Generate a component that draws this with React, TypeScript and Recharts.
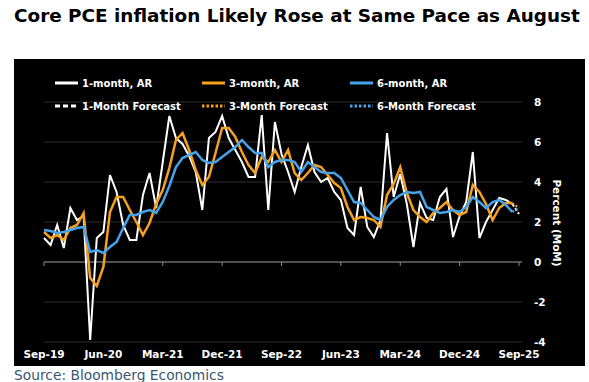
import { CartesianGrid, Legend, Line, LineChart, ReferenceLine, XAxis, YAxis } from "recharts";

const FONT = "DejaVu Sans";

const months = [
  "Sep-19", "Oct-19", "Nov-19", "Dec-19",
  "Jan-20", "Feb-20", "Mar-20", "Apr-20", "May-20", "Jun-20", "Jul-20", "Aug-20", "Sep-20", "Oct-20", "Nov-20", "Dec-20",
  "Jan-21", "Feb-21", "Mar-21", "Apr-21", "May-21", "Jun-21", "Jul-21", "Aug-21", "Sep-21", "Oct-21", "Nov-21", "Dec-21",
  "Jan-22", "Feb-22", "Mar-22", "Apr-22", "May-22", "Jun-22", "Jul-22", "Aug-22", "Sep-22", "Oct-22", "Nov-22", "Dec-22",
  "Jan-23", "Feb-23", "Mar-23", "Apr-23", "May-23", "Jun-23", "Jul-23", "Aug-23", "Sep-23", "Oct-23", "Nov-23", "Dec-23",
  "Jan-24", "Feb-24", "Mar-24", "Apr-24", "May-24", "Jun-24", "Jul-24", "Aug-24", "Sep-24", "Oct-24", "Nov-24", "Dec-24",
  "Jan-25", "Feb-25", "Mar-25", "Apr-25", "May-25", "Jun-25", "Jul-25", "Aug-25", "Sep-25",
];

// Sep-19 .. Aug-25, annualized rates
const oneMonth = [
  1.2, 0.85, 1.85, 0.7, 2.7, 2.1, 2.3, -3.9, 1.2, 1.5,
  4.35, 3.5, 1.85, 1.1, 1.1, 3.35, 4.45, 2.7, 5.0, 7.3,
  6.2, 5.9, 5.3, 4.5, 2.6, 6.2, 6.5, 7.3, 6.2, 5.6,
  5.0, 4.25, 4.25, 7.35, 2.6, 7.0, 5.4, 4.5, 3.5, 4.75,
  5.85, 4.5, 4.0, 4.2, 3.5, 3.1, 1.7, 1.35, 3.75, 1.75,
  1.25, 2.1, 6.45, 3.25, 4.4, 2.9, 0.75, 2.95, 2.2, 2.1,
  3.25, 3.65, 1.25, 2.3, 3.0, 5.5, 1.2, 2.0, 2.6, 3.2,
  3.1, 2.9,
];

const threeMonth = [
  1.5, 1.2, 1.35, 1.1, 1.7, 1.85, 2.45, -0.8, -1.2, -0.25,
  2.5, 3.25, 3.25, 2.6, 2.0, 1.35, 1.95, 2.9, 3.6, 4.7,
  6.1, 6.45, 5.6, 4.6, 3.85, 4.25, 5.45, 6.7, 6.7, 6.25,
  5.5, 4.85, 4.45, 5.25, 5.0, 5.6, 5.0, 5.6, 4.45, 4.1,
  4.45, 4.85, 4.75, 4.35, 3.95, 3.7, 2.75, 2.1, 2.25, 2.2,
  2.1, 1.75, 3.35, 3.9, 4.75, 3.45, 2.6, 2.25, 2.0, 2.45,
  2.7, 3.0, 2.6, 2.35, 2.5, 3.85, 3.5, 2.9, 2.1, 2.7,
  2.95, 2.95,
];

const sixMonth = [
  1.6, 1.55, 1.45, 1.5, 1.6, 1.7, 1.75, 0.5, 0.6, 0.45,
  0.75, 1.0, 1.7, 2.35, 2.35, 2.5, 2.6, 2.45, 3.0, 3.8,
  4.75, 5.2, 5.35, 5.5, 5.1, 4.95, 5.0, 5.25, 5.5, 5.75,
  6.1, 5.75, 5.45, 5.45, 4.75, 5.0, 5.1, 5.1, 5.0, 4.5,
  5.0, 4.75, 4.5, 4.45, 4.45, 4.2, 3.6, 3.0, 2.95, 2.6,
  2.25, 2.1, 2.75, 3.1, 3.35, 3.5, 3.45, 3.5, 2.75, 2.6,
  2.45, 2.5, 2.6, 2.5, 2.75, 3.25, 3.0, 2.7, 3.0, 3.1,
  2.85, 2.5,
];

const forecastMonths = ["Aug-25", "Sep-25"];
const oneMonthForecast = [2.9, 2.4];
const threeMonthForecast = [2.95, 2.7];
const sixMonthForecast = [2.5, 2.7];

const xTicks = ["Sep-19", "Jun-20", "Mar-21", "Dec-21", "Sep-22", "Jun-23", "Mar-24", "Dec-24", "Sep-25"];
const yTicks = [-4, -2, 0, 2, 4, 6, 8];

const WHITE = "#ffffff";
const ORANGE = "#f5a01f";
const BLUE = "#45a3ea";

const data = months.map((month, i) => {
  const f = forecastMonths.indexOf(month);
  return {
    month,
    m1: oneMonth[i] ?? null,
    m3: threeMonth[i] ?? null,
    m6: sixMonth[i] ?? null,
    m1f: f >= 0 ? oneMonthForecast[f] : null,
    m3f: f >= 0 ? threeMonthForecast[f] : null,
    m6f: f >= 0 ? sixMonthForecast[f] : null,
  };
});

const legendRows = [
  [
    { label: "1-month, AR", color: WHITE, dash: undefined, x: 41 },
    { label: "3-month, AR", color: ORANGE, dash: undefined, x: 188 },
    { label: "6-month, AR", color: BLUE, dash: undefined, x: 336 },
  ],
  [
    { label: "1-Month Forecast", color: WHITE, dash: "5 3", x: 41 },
    { label: "3-Month Forecast", color: ORANGE, dash: "2.5 2", x: 188 },
    { label: "6-Month Forecast", color: BLUE, dash: "2.5 2", x: 336 },
  ],
];

const ChartLegend = () => (
  <svg width={571} height={60}>
    {legendRows.map((row, r) =>
      row.map((item) => {
        const y = r === 0 ? 24 : 47;
        return (
          <g key={item.label}>
            <line x1={item.x} x2={item.x + 23} y1={y} y2={y} stroke={item.color} strokeWidth={3} strokeDasharray={item.dash} />
            <text x={item.x + 27} y={y} dy="0.35em" fill="#fff" fontSize={10} fontWeight={700} fontFamily={FONT}>
              {item.label}
            </text>
          </g>
        );
      })
    )}
  </svg>
);

const YLabel = ({ viewBox }: any) => {
  const cx = viewBox.x + 35;
  const cy = viewBox.y + viewBox.height / 2 + 1;
  return (
    <text x={cx} y={cy} dy="0.35em" transform={`rotate(90, ${cx}, ${cy})`} textAnchor="middle" fill="#fff" fontSize={10.5} fontWeight={700} fontFamily={FONT}>
      Percent (MoM)
    </text>
  );
};

const tickStyle = { fill: "#fff", fontSize: 10.5, fontWeight: 700, fontFamily: FONT };

export default function App() {
  return (
    <div style={{ position: "absolute", left: 0, top: 0, width: 589, height: 382, background: "#fff", fontFamily: FONT }}>
      <div style={{ position: "absolute", left: 14, top: 5, fontSize: 18.4, lineHeight: "21px", fontWeight: 700, color: "#000", whiteSpace: "nowrap" }}>
        Core PCE inflation Likely Rose at Same Pace as August
      </div>
      <div style={{ position: "absolute", left: 14, top: 59, width: 571, height: 307, background: "#000" }}>
        <LineChart width={571} height={307} data={data} margin={{ top: 43, right: 18, bottom: 0, left: 30 }}>
          <CartesianGrid vertical={false} stroke="#2e2e2e" strokeWidth={1} />
          <XAxis
            dataKey="month"
            interval={8}
            axisLine={false}
            tickLine={false}
            tick={tickStyle}
            tickMargin={3}
            height={24}
            padding={{ left: 0, right: 3 }}
          />
          <YAxis
            orientation="right"
            domain={[-4, 8]}
            ticks={yTicks}
            axisLine={false}
            tickLine={false}
            tick={tickStyle}
            tickMargin={6}
            width={45}
            label={<YLabel />}
          />
          <ReferenceLine y={0} stroke="#8a8a8a" strokeWidth={1} />
          {xTicks.map((t) => (
            <ReferenceLine key={t} segment={[{ x: t, y: 0 }, { x: t, y: -0.2 }]} stroke="#8a8a8a" strokeWidth={1} />
          ))}
          <Legend layout="vertical" verticalAlign="middle" align="center" content={<ChartLegend />} wrapperStyle={{ left: 0, top: 0, width: 571, height: 60 }} />
          <Line dataKey="m1" stroke={WHITE} strokeWidth={2} dot={false} isAnimationActive={false} />
          <Line dataKey="m3" stroke={ORANGE} strokeWidth={2.5} dot={false} isAnimationActive={false} />
          <Line dataKey="m6" stroke={BLUE} strokeWidth={2.5} dot={false} isAnimationActive={false} />
          <Line dataKey="m1f" stroke={WHITE} strokeWidth={2} strokeDasharray="3 2" dot={false} isAnimationActive={false} />
          <Line dataKey="m3f" stroke={ORANGE} strokeWidth={2} strokeDasharray="2 2" dot={false} isAnimationActive={false} />
          <Line dataKey="m6f" stroke={BLUE} strokeWidth={2} strokeDasharray="2 2" dot={false} isAnimationActive={false} />
        </LineChart>
      </div>
      <div style={{ position: "absolute", left: 14, top: 367, fontSize: 13.8, lineHeight: "16px", color: "#3b5671", whiteSpace: "nowrap" }}>
        Source: Bloomberg Economics
      </div>
    </div>
  );
}
